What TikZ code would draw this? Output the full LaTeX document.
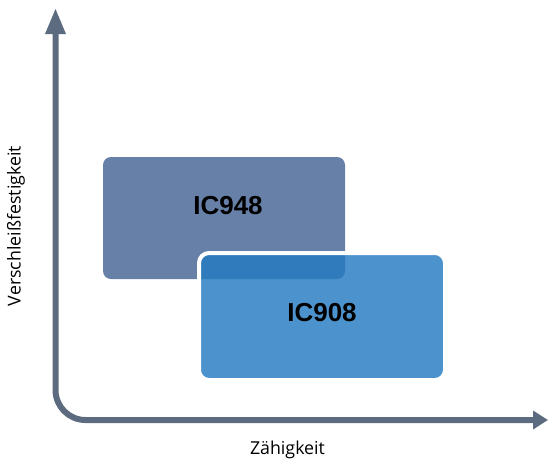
\documentclass[tikz,border=0pt]{standalone}
\usepackage{fontspec}
\setmainfont{Open Sans}
\newfontfamily\boxfont{Liberation Sans}
\usetikzlibrary{arrows.meta}
\definecolor{axisgray}{RGB}{93,107,128}
\definecolor{hardblue}{RGB}{102,128,168}
\definecolor{toughblue}{RGB}{37,122,193}
\tikzset{
	axis/.style={draw=axisgray, line width=6pt},
	gradebox/.style={minimum width=242pt, minimum height=122pt, rounded corners=8pt, inner sep=0pt},
	gradename/.style={font=\boxfont\bfseries\fontsize{26}{30}\selectfont, text=black},
	axisname/.style={font=\fontsize{17.8}{21}\selectfont, text=black}
}
\begin{document}
\begin{tikzpicture}[x=1pt,y=-1pt]
	\useasboundingbox (0,0) rectangle (548,461);
	\coordinate (ytip) at (55.5,8);
	\coordinate (xtip) at (548,420);
	\draw[axis, rounded corners=30pt, {Triangle[length=26pt,width=19pt]}-{Triangle[length=15pt,width=18pt]}] (ytip) |- (xtip);
	\node[gradebox, fill=hardblue] (ic948) at (224,218) {};
	\node[gradebox, minimum width=246pt, minimum height=127pt, rounded corners=10pt, fill=toughblue, fill opacity=0.82, draw=white, line width=4pt] (ic908) at (322,316.5) {};
	\node[gradename] (n948) at (228,206) {IC948};
	\node[gradename] (n908) at (322,313) {IC908};
	\node[axisname] (x) at (287.5,450) {Zähigkeit};
	\node[axisname, rotate=90] (y) at (16,226) {Verschleißfestigkeit};
\end{tikzpicture}
\end{document}
